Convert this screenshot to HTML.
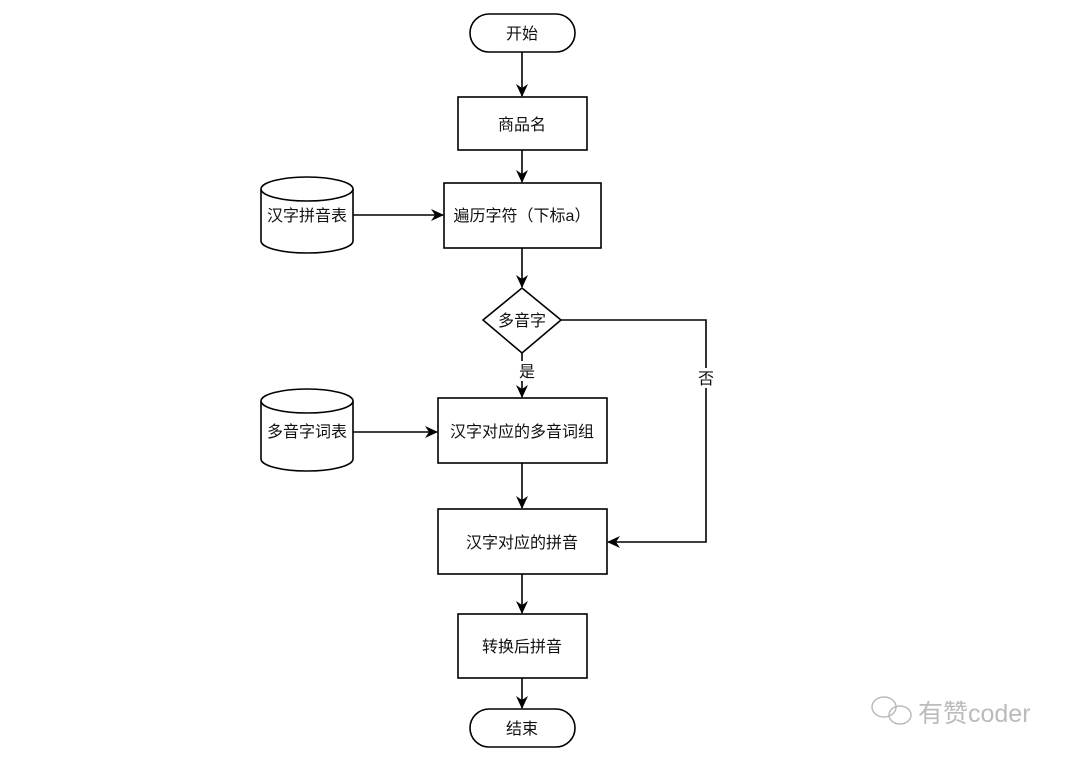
<!DOCTYPE html>
<html><head><meta charset="utf-8"><style>
html,body{margin:0;padding:0;background:#fff;width:1080px;height:761px;overflow:hidden}
text{font-family:"Liberation Sans","Noto Sans CJK SC",sans-serif;font-size:16px;fill:#111}
</style></head><body>
<svg width="1080" height="761" viewBox="0 0 1080 761" xmlns="http://www.w3.org/2000/svg">
<defs><marker id="a" markerWidth="13" markerHeight="12" refX="12" refY="6" orient="auto" markerUnits="userSpaceOnUse"><path d="M0,0 L13,6 L0,12 L4,6 z" fill="#000"/></marker></defs>
<g fill="#fff" stroke="#000" stroke-width="1.6">
<rect x="470" y="14" width="105" height="38" rx="19"/>
<rect x="458" y="97" width="129" height="53"/>
<rect x="444" y="183" width="157" height="65"/>
<path d="M522,288 L561,320 L522,353 L483,320 z"/>
<rect x="438" y="398" width="169" height="65"/>
<rect x="438" y="509" width="169" height="65"/>
<rect x="458" y="614" width="129" height="64"/>
<rect x="470" y="709" width="105" height="38" rx="19"/>
<path d="M261,189 v52 a46,12 0 0 0 92,0 v-52"/>
<ellipse cx="307" cy="189" rx="46" ry="12"/>
<path d="M261,401 v58 a46,12 0 0 0 92,0 v-58"/>
<ellipse cx="307" cy="401" rx="46" ry="12"/>
</g>
<g stroke="#000" stroke-width="1.6" fill="none" marker-end="url(#a)">
<line x1="522" y1="52" x2="522" y2="96"/>
<line x1="522" y1="150" x2="522" y2="182"/>
<line x1="353" y1="215" x2="443" y2="215"/>
<line x1="522" y1="248" x2="522" y2="287"/>
<line x1="522" y1="353" x2="522" y2="397"/>
<line x1="353" y1="432" x2="437" y2="432"/>
<line x1="522" y1="463" x2="522" y2="508"/>
<polyline points="561,320 706,320 706,542 608,542"/>
<line x1="522" y1="574" x2="522" y2="613"/>
<line x1="522" y1="678" x2="522" y2="708"/>
</g>
<rect x="517" y="361" width="20" height="20" fill="#fff"/>
<rect x="696" y="368" width="20" height="20" fill="#fff"/>
<g text-anchor="middle">
<text x="522" y="39">开始</text>
<text x="522" y="130">商品名</text>
<text x="522" y="221">遍历字符（下标a）</text>
<text x="522" y="326">多音字</text>
<text x="527" y="377">是</text>
<text x="706" y="384">否</text>
<text x="522" y="437">汉字对应的多音词组</text>
<text x="522" y="548">汉字对应的拼音</text>
<text x="522" y="652">转换后拼音</text>
<text x="522" y="734">结束</text>
<text x="307" y="221">汉字拼音表</text>
<text x="307" y="437">多音字词表</text>
</g>
<g fill="none" stroke="#bbb" stroke-width="1.5">
<ellipse cx="884" cy="707" rx="12" ry="10"/>
<ellipse cx="900" cy="715" rx="11" ry="9"/>
</g>
<text x="918" y="722" style="font-size:25px;fill:#bbb">有赞coder</text>
</svg>
</body></html>
